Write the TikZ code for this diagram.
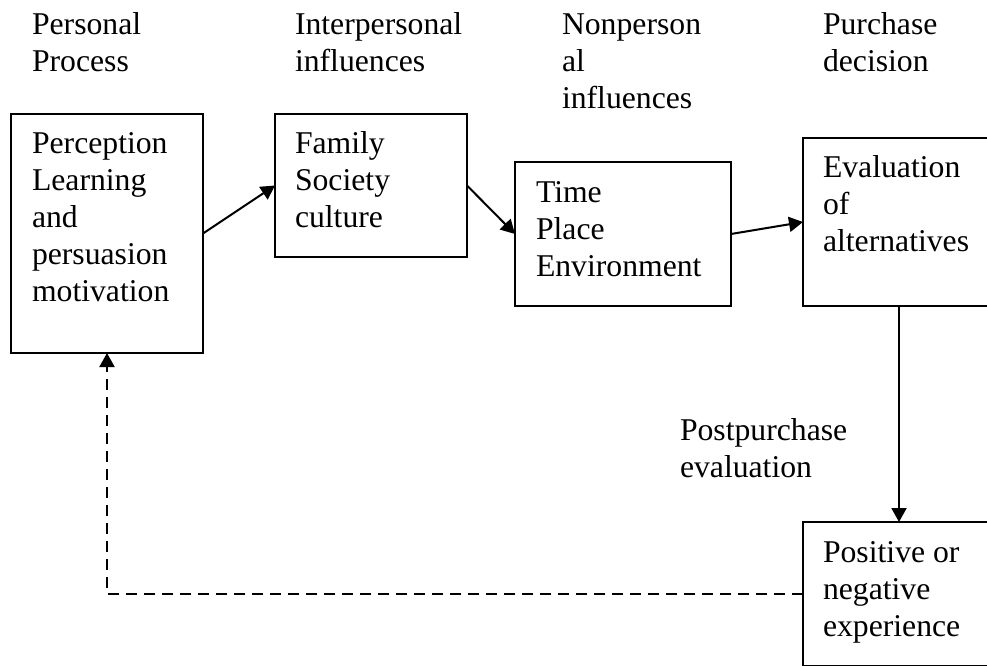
\documentclass[tikz,border=0pt]{standalone}
\usepackage{fontspec}
\setmainfont{Liberation Serif}
\usetikzlibrary{arrows.meta}

\tikzset{
  txt/.style={anchor=base west, inner sep=0pt, outer sep=0pt,
    font=\fontsize{31.7}{37}\selectfont},
  stagebox/.style={draw, line width=2pt, anchor=north west, inner sep=0pt,
    outer sep=0pt},
  link/.style={line width=2pt, -{Triangle[length=14pt,width=15pt]}},
  feedback/.style={link, dash pattern=on 11pt off 7pt}
}
\newcommand{\lines}[1]{\begin{tabular}[t]{@{}l@{}}#1\end{tabular}}

\begin{document}
\begin{tikzpicture}[x=1pt, y=-1pt]
  \useasboundingbox (0,0) rectangle (987,665);

  % column headings
  \node[txt] (h1) at (32,34)  {\lines{Personal\\Process}};
  \node[txt] (h2) at (295,34) {\lines{Interpersonal\\influences}};
  \node[txt] (h3) at (562,34) {\lines{Nonperson\\al\\influences}};
  \node[txt] (h4) at (823,34) {\lines{Purchase\\decision}};

  % stage frames
  \node[stagebox, minimum width=192pt, minimum height=239pt] (b1) at (11,114) {};
  \node[stagebox, minimum width=192pt, minimum height=143pt] (b2) at (275,114) {};
  \node[stagebox, minimum width=216pt, minimum height=144pt] (b3) at (515,162) {};
  \node[stagebox, minimum width=192pt, minimum height=168pt] (b4) at (803,138) {};
  \node[stagebox, minimum width=192pt, minimum height=144pt] (b5) at (803,522) {};

  % stage contents
  \node[txt] (t1) at (32,153)  {\lines{Perception\\Learning\\and\\persuasion\\motivation}};
  \node[txt] (t2) at (295,153) {\lines{Family\\Society\\culture}};
  \node[txt] (t3) at (536,202) {\lines{Time\\Place\\Environment}};
  \node[txt] (t4) at (823,177) {\lines{Evaluation\\of\\alternatives}};
  \node[txt] (t5) at (823,562) {\lines{Positive or\\negative\\experience}};

  \node[txt] (pp) at (680,440) {\lines{Postpurchase\\evaluation}};

  % flow
  \draw[link] (b1.east) -- (b2.west);
  \draw[link] (b2.east) -- (b3.west);
  \draw[link] (b3.east) -- (b4.west);
  \draw[link] (b4.south) -- (b5.north);
  \draw[feedback] (b5.west) -| (b1.south);
\end{tikzpicture}
\end{document}
